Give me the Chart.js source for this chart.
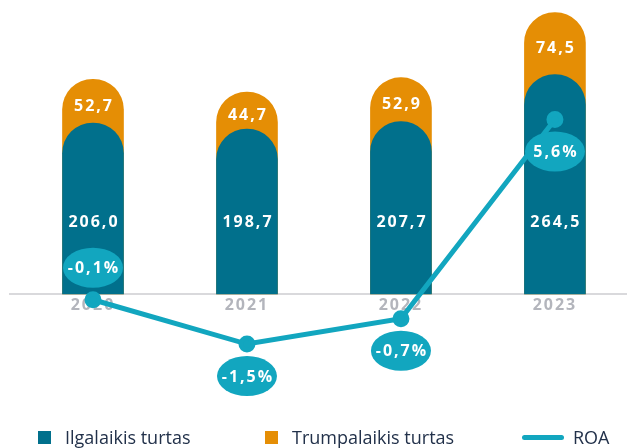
<!DOCTYPE html>
<html>
<head>
<meta charset="utf-8">
<script src="https://cdn.jsdelivr.net/npm/chart.js@4.4.1/dist/chart.umd.min.js"></script>
<style>
  body { margin: 0; background: #fff; }
  #wrap { position: relative; width: 627px; height: 448px; }
  #legend { position: absolute; left: 0; top: 427px; width: 627px; height: 20px;
            font-family: "Open Sans", sans-serif; font-size: 18px; line-height: 20px; color: #22314a; }
  .item { position: absolute; top: 0; height: 20px; display: flex; align-items: center; white-space: nowrap; }
  .box { width: 13px; height: 13px; margin-right: 14px; }
  .ln { width: 42px; height: 5px; border-radius: 3px; margin-right: 9px; }
</style>
</head>
<body>
<div id="wrap">
  <canvas id="chart" width="627" height="448"></canvas>
  <div id="legend"></div>
</div>
<script>
const years = ['2020', '2021', '2022', '2023'];
const ilgalaikis = [206.0, 198.7, 207.7, 264.5];
const trumpalaikis = [52.7, 44.7, 52.9, 74.5];
const roa = [-0.1, -1.5, -0.7, 5.6];

const BLUE = '#01708c';
const ORANGE = '#e58e05';
const CYAN = '#12a6bf';

const fmt = v => v.toFixed(1).replace('.', ',');

// orange bar sits behind the blue one and reaches the sum of both
const totals = ilgalaikis.map((v, i) => v + trumpalaikis[i]);
const xy = arr => arr.map((v, i) => ({ x: i, y: v }));

const valueLabels = {
  id: 'valueLabels',
  beforeDraw(chart) {
    chart.ctx.letterSpacing = '2px';
  },
  afterDatasetsDraw(chart) {
    const { ctx, scales } = chart;
    const x = scales.x, y = scales.y, y1 = scales.y1;
    const base = y.getPixelForValue(0);
    ctx.save();
    ctx.font = 'bold 16px "Open Sans"';
    ctx.textAlign = 'center';
    ctx.textBaseline = 'middle';
    ctx.fillStyle = '#fff';
    years.forEach((_, i) => {
      const cx = x.getPixelForValue(i) + 1;
      const blueTop = y.getPixelForValue(ilgalaikis[i]);
      const top = y.getPixelForValue(totals[i]);
      ctx.fillText(fmt(trumpalaikis[i]), cx, (top + blueTop) / 2 + 5);
      ctx.fillText(fmt(ilgalaikis[i]), cx, base - 72);
    });

    // ROA bubbles: above the point when it sits on the axis, below otherwise
    years.forEach((_, i) => {
      const cx = x.getPixelForValue(i);
      const py = y1.getPixelForValue(roa[i]);
      const cy = Math.abs(roa[i]) < 0.5 ? py - 32 : py + 32;
      ctx.fillStyle = CYAN;
      ctx.beginPath();
      ctx.ellipse(cx, cy, 30, 20, 0, 0, Math.PI * 2);
      ctx.fill();
      ctx.fillStyle = '#fff';
      ctx.fillText(fmt(roa[i]) + '%', cx + 1, cy + 1);
    });
    ctx.restore();
  }
};

const chart = new Chart(document.getElementById('chart'), {
  type: 'bar',
  data: {
    datasets: [
      { type: 'bar', label: 'Ilgalaikis turtas', data: xy(ilgalaikis), backgroundColor: BLUE, order: 1 },
      { type: 'bar', label: 'Trumpalaikis turtas', data: xy(totals), backgroundColor: ORANGE, order: 2 },
      {
        type: 'line', label: 'ROA', data: xy(roa), yAxisID: 'y1',
        borderColor: CYAN, backgroundColor: CYAN, borderWidth: 5,
        pointRadius: 6, pointHoverRadius: 6, tension: 0, clip: false, order: 0
      }
    ]
  },
  options: {
    responsive: false,
    animation: false,
    layout: { autoPadding: false, padding: { left: 10, right: 0, top: 0, bottom: 48 } },
    datasets: {
      bar: {
        barThickness: 61,
        grouped: false,
        borderRadius: { topLeft: 40, topRight: 40 },
        borderSkipped: 'start'
      }
    },
    plugins: { legend: { display: false }, tooltip: { enabled: false } },
    scales: {
      x: {
        type: 'linear',
        offset: false,
        position: { y: 0 },
        min: -0.539,
        max: 3.468,
        grid: { display: false, drawTicks: false, offset: false },
        border: { color: '#d9d9dc', width: 2 },
        afterBuildTicks: s => { s.ticks = years.map((_, i) => ({ value: i })); },
        ticks: {
          callback: v => years[v],
          padding: 2,
          color: '#b3b5bc',
          maxRotation: 0,
          autoSkip: false,
          font: { family: 'Open Sans', size: 16, weight: 'bold' }
        }
      },
      y: { display: false, min: -127.7, max: 354.2 },
      y1: { display: false, min: -3.268, max: 9.374 }
    }
  },
  plugins: [valueLabels]
});

// legend row under the chart
const legendLeft = [38, 265, 522];
const legend = document.getElementById('legend');
chart.data.datasets.forEach((ds, i) => {
  const item = document.createElement('div');
  item.className = 'item';
  item.style.left = legendLeft[i] + 'px';
  const mark = document.createElement('span');
  mark.className = ds.type === 'line' ? 'ln' : 'box';
  mark.style.background = ds.type === 'line' ? ds.borderColor : ds.backgroundColor;
  item.appendChild(mark);
  item.appendChild(document.createTextNode(ds.label));
  legend.appendChild(item);
});
</script>
</body>
</html>
